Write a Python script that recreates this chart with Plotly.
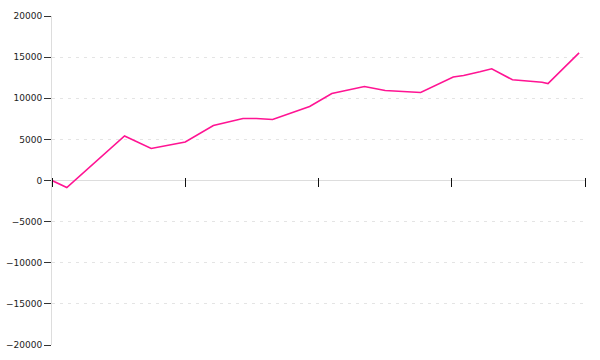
import plotly.graph_objects as go

# x positions (days), y values
days = [0, 10, 49, 67, 90, 109, 129, 138, 149, 165, 174, 189, 195, 211, 225,
        242, 249, 271, 278, 289, 297, 311, 331, 335, 356]
values = [0, -850, 5410, 3890, 4680, 6690, 7540, 7540, 7420, 8390, 9000, 10580,
          10820, 11430, 10940, 10820, 10700, 12580, 12770, 13220, 13580, 12240,
          11950, 11790, 15520]

x_ticks = [0, 90, 180, 270, 360]
y_ticks = [-20000, -15000, -10000, -5000, 0, 5000, 10000, 15000, 20000]

fig = go.Figure()
fig.add_trace(go.Scatter(x=days, y=values, mode="lines",
                         line=dict(color="#ff1493", width=1.6),
                         hoverinfo="skip", showlegend=False, cliponaxis=False))

fig.update_layout(
    width=600, height=360,
    margin=dict(l=52, r=15, t=16, b=15),
    paper_bgcolor="white", plot_bgcolor="white",
    font=dict(family="DejaVu Sans", size=9, color="#333"),
    xaxis=dict(range=[x_ticks[0], x_ticks[-1]], tickvals=x_ticks, showticklabels=False,
               ticks="outside", ticklen=9, tickcolor="#111", tickwidth=1,
               showgrid=False, zeroline=False, showline=False,
               anchor="free", position=0.5 + 4 / 329, automargin=False),
    yaxis=dict(range=[y_ticks[0], y_ticks[-1]], tickvals=y_ticks,
               ticks="outside", ticklen=7, tickcolor="#333", tickwidth=1,
               showgrid=True, gridcolor="#e4e4e4", griddash="3px,5px", gridwidth=1,
               zeroline=True, zerolinecolor="#dddddd", zerolinewidth=1,
               showline=True, linecolor="#dddddd", linewidth=1,
               tickfont=dict(family="DejaVu Sans", size=9, color="#222"),
               tickformat="d", automargin=False),
)

fig.write_html("out.html")
